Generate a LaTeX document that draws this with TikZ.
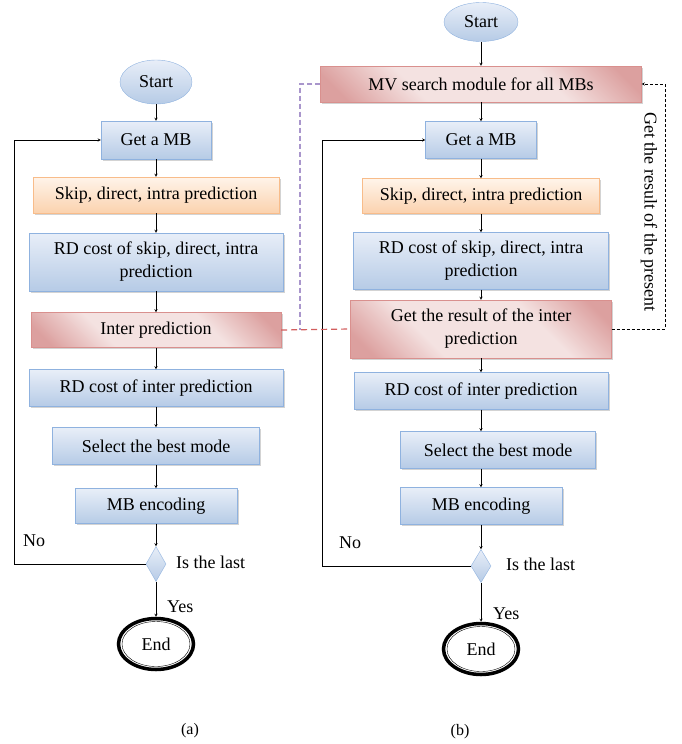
\documentclass[tikz,border=0pt]{standalone}
\usepackage{fontspec}
\setmainfont{Liberation Serif}
\usetikzlibrary{shapes.geometric,shadows}

\definecolor{bluetop}{HTML}{E8EEF8}
\definecolor{bluebot}{HTML}{B6CBE6}
\definecolor{blueline}{HTML}{8FB2DF}
\definecolor{orangetop}{HTML}{FFF4EA}
\definecolor{orangebot}{HTML}{FBD2AE}
\definecolor{orangeline}{HTML}{F8BC8A}
\definecolor{reddark}{HTML}{DCA09F}
\definecolor{redlight}{HTML}{F4E2E1}
\definecolor{redline}{HTML}{D9908E}
\definecolor{dashred}{HTML}{D25E5E}
\definecolor{dashpurple}{HTML}{A996CC}
\pgfdeclarehorizontalshading{redshade}{100bp}{color(0bp)=(reddark); color(20bp)=(reddark); color(36bp)=(redlight); color(64bp)=(redlight); color(80bp)=(reddark); color(100bp)=(reddark)}

\begin{document}
\begin{tikzpicture}[x=1pt,y=-1pt,>=stealth,
    font=\fontsize{18}{23}\selectfont,
    shade/.style={drop shadow={shadow xshift=1.5pt,shadow yshift=-1.5pt,opacity=.35,fill=gray}},
    bluebox/.style={draw=blueline,top color=bluetop,bottom color=bluebot,shade,inner sep=2pt,align=center},
    orangebox/.style={draw=orangeline,top color=orangetop,bottom color=orangebot,shade,inner sep=2pt},
    redbox/.style={draw=redline,shading=redshade,shading angle=45,shade,inner sep=2pt,align=center},
    startnode/.style={ellipse,draw=blueline,top color=bluetop,bottom color=bluebot,inner sep=0pt},
    testnode/.style={diamond,draw=blueline,top color=bluetop,bottom color=bluebot,inner sep=0pt,minimum width=20,minimum height=35},
    endnode/.style={ellipse,draw,line width=3.5pt,fill=white,inner sep=0pt,minimum width=75,minimum height=51},
    tag/.style={inner sep=0pt}]
  \useasboundingbox (0,0) rectangle (681,744);

  % (a)
  \node[startnode,minimum width=72,minimum height=44] (starta) at (156,82) {Start};
  \node[bluebox,minimum width=110,minimum height=38] (geta) at (156,140) {Get a MB};
  \node[orangebox,minimum width=246,minimum height=36] (skipa) at (156,195) {Skip, direct, intra prediction};
  \node[bluebox,minimum width=254,minimum height=58] (rdsa) at (156,262) {RD cost of skip, direct, intra\\prediction};
  \node[redbox,minimum width=250,minimum height=35] (intera) at (156,330) {Inter prediction};
  \node[bluebox,minimum width=254,minimum height=37] (rdia) at (156,388) {RD cost of inter prediction};
  \node[bluebox,minimum width=207,minimum height=37] (besta) at (156,446) {Select the best mode};
  \node[bluebox,minimum width=162,minimum height=35] (enca) at (156,506) {MB encoding};
  \node[testnode] (lasta) at (156,564) {};
  \node[endnode] (enda) at (156,644) {End};
  \draw (enda.center) ellipse (34 and 22.5);
  \node[tag,anchor=west] (isa) at (176,562) {Is the last};
  \node[tag,anchor=west] (noa) at (23,541) {No};
  \node[tag,anchor=west] (yesa) at (167,607) {Yes};
  \node[font=\fontsize{16}{18}\selectfont] (capa) at (190,731) {(a)};

  \draw[->] (starta) -- (geta);
  \draw[->] (geta) -- (skipa);
  \draw[->] (skipa) -- (rdsa);
  \draw[->] (rdsa) -- (intera);
  \draw[->] (intera) -- (rdia);
  \draw[->] (rdia) -- (besta);
  \draw[->] (besta) -- (enca);
  \draw[->] (enca) -- (lasta);
  \draw[->] (lasta) -- (enda);
  \draw[->] (lasta.west) -- ++(-132,0) |- (geta.west);

  % (b)
  \node[startnode,minimum width=74,minimum height=39] (startb) at (481,22) {Start};
  \node[redbox,minimum width=321,minimum height=36] (mvsb) at (481,84) {MV search module for all MBs};
  \node[bluebox,minimum width=111,minimum height=37] (getb) at (481,140) {Get a MB};
  \node[orangebox,minimum width=237,minimum height=35] (skipb) at (481,196) {Skip, direct, intra prediction};
  \node[bluebox,minimum width=255,minimum height=57] (rdsb) at (481,261) {RD cost of skip, direct, intra\\prediction};
  \node[redbox,minimum width=261,minimum height=58] (resb) at (481,329) {Get the result of the inter\\prediction};
  \node[bluebox,minimum width=254,minimum height=37] (rdib) at (481,391) {RD cost of inter prediction};
  \node[bluebox,minimum width=195,minimum height=37] (bestb) at (498,450) {Select the best mode};
  \node[bluebox,minimum width=162,minimum height=37] (encb) at (481,506) {MB encoding};
  \node[testnode,minimum height=33] (lastb) at (481,566) {};
  \node[endnode] (endb) at (481,649) {End};
  \draw (endb.center) ellipse (34 and 22.5);
  \node[tag,anchor=west] (isb) at (506,564) {Is the last};
  \node[tag,anchor=west] (nob) at (339,543) {No};
  \node[tag,anchor=west] (yesb) at (493,614) {Yes};
  \node[font=\fontsize{16}{18}\selectfont] (capb) at (460,732) {(b)};

  \draw[->] (startb) -- (mvsb);
  \draw[->] (mvsb) -- (getb);
  \draw[->] (getb) -- (skipb);
  \draw[->] (skipb) -- (rdsb);
  \draw[->] (rdsb) -- (resb);
  \draw[->] (resb) -- (rdib);
  \draw[->] (rdib) -- (rdib |- bestb.north);
  \draw[->] (encb |- bestb.south) -- (encb);
  \draw[->] (encb) -- (lastb);
  \draw[->] (lastb) -- (endb);
  \draw[->] (lastb.west) -- ++(-149,0) |- (getb.west);

  % links between (a) and (b)
  \coordinate (joint) at (300,330);
  \draw[dashpurple,line width=1.2pt,dash pattern=on 5pt off 3pt] (mvsb.west) -| (joint);
  \draw[dashred,line width=1.2pt,dash pattern=on 6pt off 4pt] (intera.east) -- (resb.west);
  \draw[->,densely dashed] (resb.east) -- ++(53,0) |- (mvsb.east);
  \node[tag,rotate=-90] (presb) at (649,212) {Get the result of the present};
\end{tikzpicture}
\end{document}
